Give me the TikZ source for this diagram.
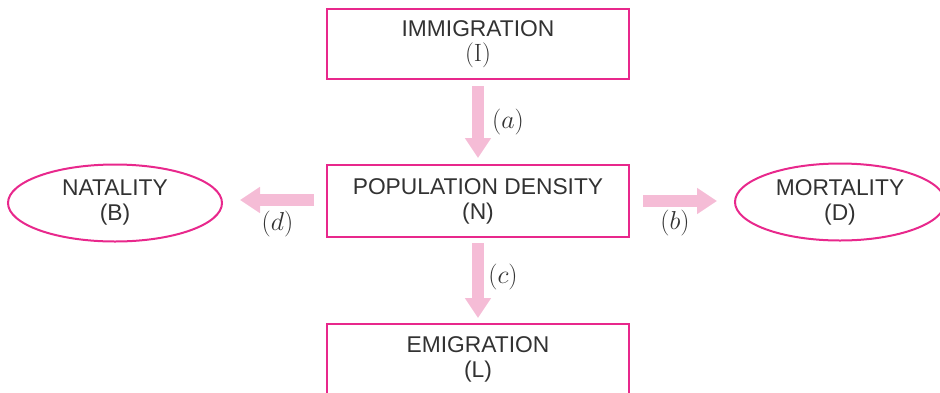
\documentclass[tikz,border=0pt]{standalone}
\usepackage{fontspec}
\setsansfont{Liberation Sans}
\usetikzlibrary{calc,shapes.geometric,arrows.meta}
\definecolor{boxpink}{RGB}{232,40,140}
\definecolor{arrpink}{RGB}{245,188,214}
\definecolor{txtgray}{RGB}{50,50,50}

\begin{document}
\begin{tikzpicture}[x=1pt,y=-1pt,inner sep=0pt,outer sep=0pt,
    every node/.style={text=txtgray},
    box_rect/.style={draw=boxpink,line width=2pt,minimum width=302pt,minimum height=70pt,
        align=center,font=\sffamily\fontsize{22.8}{25}\selectfont},
    box_ell/.style={ellipse,draw=boxpink,line width=2pt,minimum width=212pt,minimum height=77pt,
        align=center,font=\sffamily\fontsize{22.8}{25}\selectfont},
    flow_arr/.style={draw=arrpink,line width=12pt,-{Triangle[width=25pt,length=20pt]}},
    arr_lab/.style={font=\fontsize{20}{24}\selectfont,scale=1.25}]
    \useasboundingbox (0,0) rectangle (940,392);

    % boxes
    \node[box_rect] (imm_box) at (478, 44) {IMMIGRATION\\\textrm{\fontsize{25}{25}\selectfont (I)}};
    \node[box_rect, minimum height=72pt] (pop_den) at (478, 201) {POPULATION DENSITY\\(N)};
    \node[box_rect] (emi_box) at (478, 359) {EMIGRATION\\(L)};

    % ellipses
    \node[box_ell, minimum width=214pt] (nat_ell) at (115, 203) {NATALITY\\(B)};
    \node[box_ell, minimum width=210pt] (mor_ell) at (840, 202) {MORTALITY\\(D)};

    % arrows
    \draw[flow_arr, shorten <=7pt, shorten >=7pt] (imm_box) -- (pop_den);
    \draw[flow_arr, shorten <=6pt, shorten >=6pt] (pop_den) -- (emi_box);
    \draw[flow_arr, shorten <=13pt, shorten >=18pt] ($(pop_den.west)+(0,-1)$) -- ($(pop_den.west -| nat_ell.east)+(0,-1)$);
    \draw[flow_arr, shorten <=14pt, shorten >=18pt] (pop_den.east) -- (pop_den.east -| mor_ell.west);

    % labels
    \node[arr_lab] (lab_a) at ($(imm_box.south)!0.5!(pop_den.north) + (30pt, 0)$) {$(a)$};
    \node[arr_lab] (lab_c) at ($(pop_den.south)!0.5!(emi_box.north) + (25pt, -3)$) {$(c)$};
    \node[arr_lab] (lab_d) at ($(pop_den.west)!0.5!(pop_den.west -| nat_ell.east) + (3pt, 23)$) {$(d)$};
    \node[arr_lab] (lab_b) at ($(pop_den.east)!0.5!(pop_den.east -| mor_ell.west) + (-7pt, 22)$) {$(b)$};
\end{tikzpicture}
\end{document}
